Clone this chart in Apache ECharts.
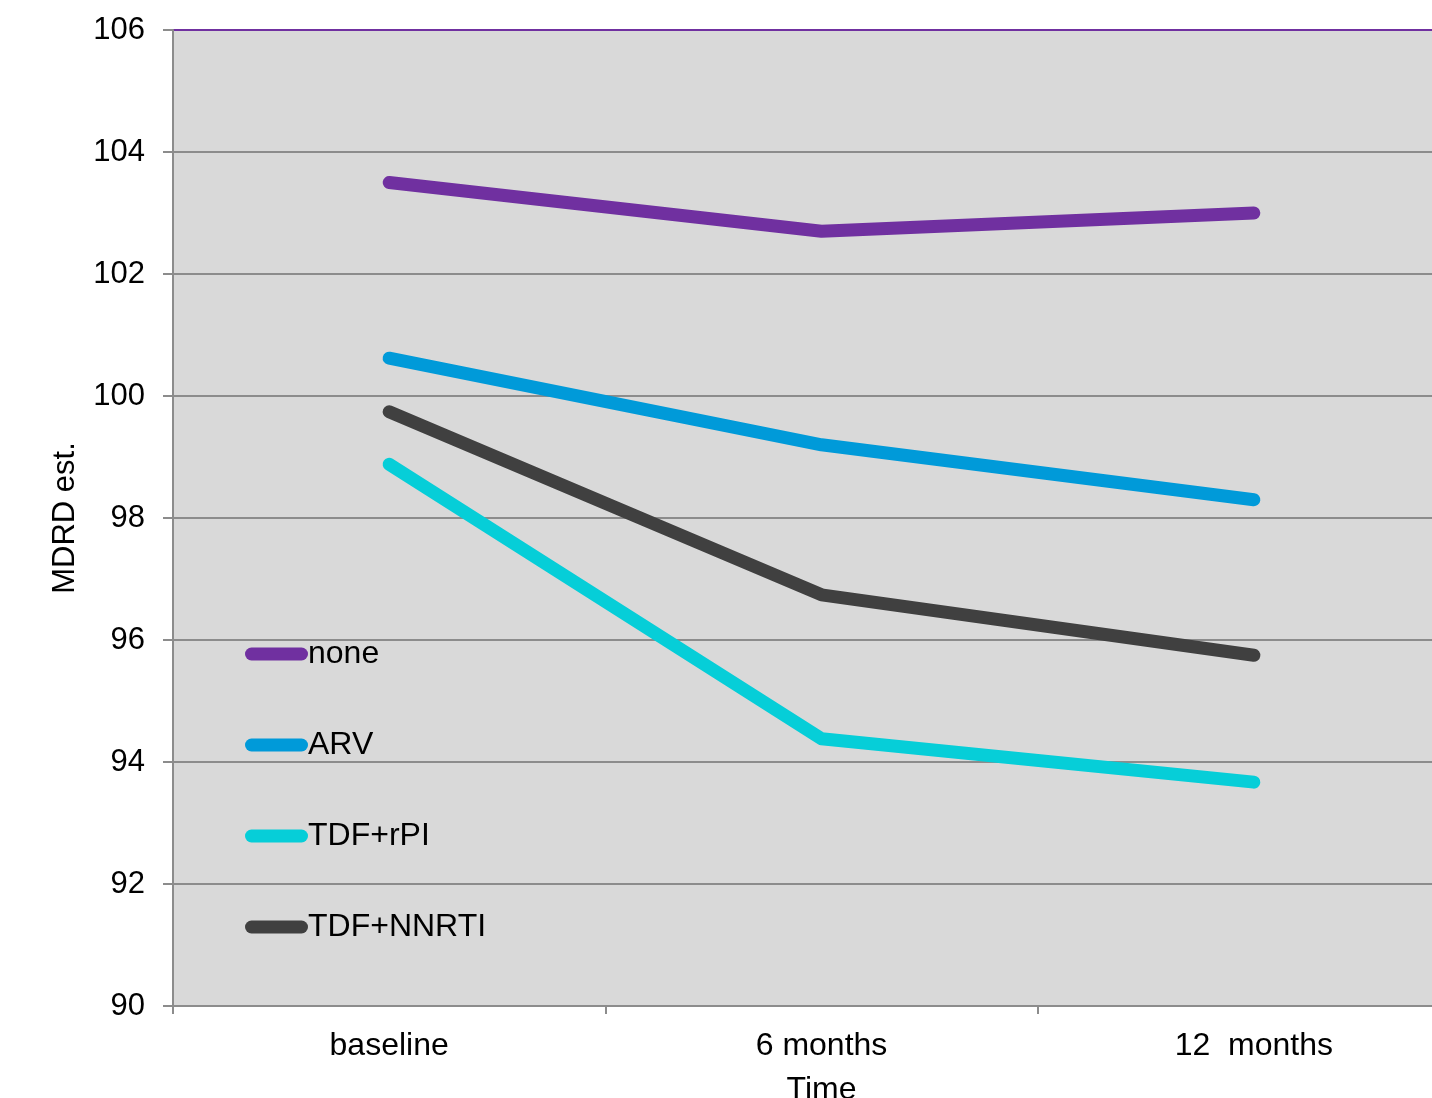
<!DOCTYPE html>
<html>
<head>
<meta charset="utf-8">
<script src="https://cdn.jsdelivr.net/npm/echarts@6/dist/echarts.min.js"></script>
<style>
html,body{margin:0;padding:0;background:#fff;}
#c{width:1432px;height:1098px;}
</style>
</head>
<body>
<div id="c"></div>
<script>
var categories = ['baseline', '6 months', '12  months'];
var seriesNames = ['none', 'ARV', 'TDF+rPI', 'TDF+NNRTI'];
var noneValues = [103.5, 102.7, 103.0];
var arvValues = [100.62, 99.2, 98.3];
var tdfRpiValues = [98.88, 94.38, 93.67];
var tdfNnrtiValues = [99.74, 96.74, 95.75];
var yTicks = [90, 92, 94, 96, 98, 100, 102, 104, 106];

var colors = ['#7030a0', '#009ad9', '#06ced8', '#404040'];
var dataSets = [noneValues, arvValues, tdfRpiValues, tdfNnrtiValues];
var font = 'Liberation Sans, Arial, sans-serif';

var splitColors = yTicks.map(function (v, i) { return i === yTicks.length - 1 ? '#7030a0' : '#8c8c8c'; });

var chart = echarts.init(document.getElementById('c'));
chart.setOption({
  animation: false,
  backgroundColor: '#ffffff',
  textStyle: { fontFamily: font },
  grid: {
    left: 173, top: 30, right: -38, bottom: 92,
    show: true, backgroundColor: '#d9d9d9', borderWidth: 0,
    outerBoundsMode: 'none', containLabel: false
  },
  legend: {
    orient: 'vertical',
    left: 245, top: 638,
    padding: 0,
    itemWidth: 63, itemHeight: 13,
    itemGap: 59,
    icon: 'path://M6.5,0 L56.5,0 A6.5,6.5 0 0 1 56.5,13 L6.5,13 A6.5,6.5 0 0 1 6.5,0 Z',
    textStyle: { fontSize: 32, color: '#000', fontFamily: font, padding: [0, 0, 0, -5], lineHeight: 30 },
    data: seriesNames
  },
  xAxis: {
    type: 'category',
    data: categories,
    boundaryGap: true,
    name: 'Time',
    nameLocation: 'middle',
    nameGap: 68,
    nameTextStyle: { fontSize: 32, color: '#000', fontFamily: font },
    axisLine: { show: true, lineStyle: { color: '#8c8c8c', width: 2 } },
    axisTick: { show: true, length: 8, lineStyle: { color: '#8c8c8c', width: 2 } },
    axisLabel: { fontSize: 32, color: '#000', margin: 24, fontFamily: font },
    splitLine: { show: false }
  },
  yAxis: {
    type: 'value',
    min: 90, max: 106, interval: 2,
    name: 'MDRD est.',
    nameLocation: 'middle',
    nameGap: 92,
    nameRotate: 90,
    nameTextStyle: { fontSize: 31, color: '#000', fontFamily: font },
    axisLine: { show: true, lineStyle: { color: '#8c8c8c', width: 2 } },
    axisTick: { show: true, inside: false, length: 10, lineStyle: { color: '#8c8c8c', width: 2 } },
    axisLabel: { fontSize: 31, color: '#000', margin: 28, fontFamily: font, padding: [4, 0, 0, 0] },
    splitLine: { show: true, lineStyle: { color: splitColors, width: 2 } }
  },
  series: seriesNames.map(function (name, i) {
    return {
      name: name,
      type: 'line',
      data: dataSets[i],
      symbol: 'none',
      color: colors[i],
      lineStyle: { width: 13, color: colors[i], cap: 'round', join: 'round' },
      z: 10 + (seriesNames.length - i)
    };
  })
});
</script>
</body>
</html>
